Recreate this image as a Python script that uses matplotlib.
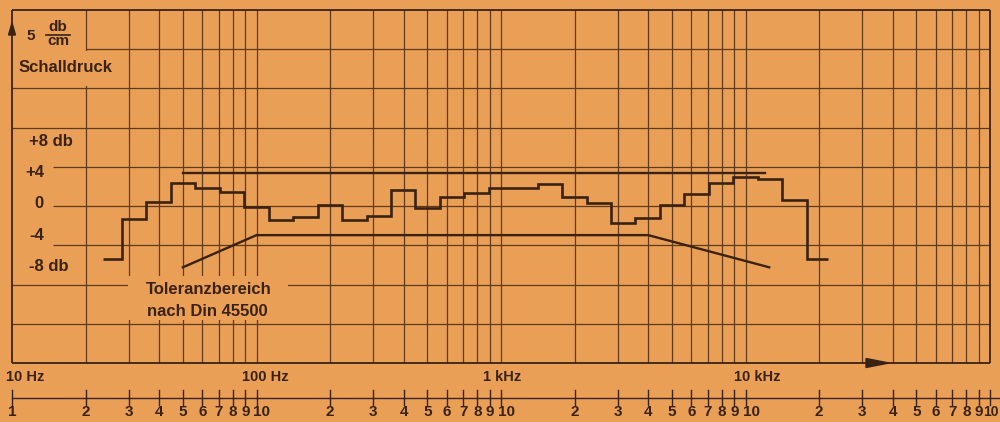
import numpy as np
import matplotlib
matplotlib.use('Agg')
import matplotlib.pyplot as plt
from matplotlib.patches import Polygon, Rectangle
from matplotlib.lines import Line2D
from matplotlib.transforms import Affine2D, blended_transform_factory

# third-octave band centres (Hz) and the measured level (dB) of each band
band_hz = [25, 31.5, 40, 50, 63, 80, 100, 125, 160, 200, 250, 315, 400, 500,
           630, 800, 1000, 1250, 1600, 2000, 2500, 3150, 4000, 5000, 6300,
           8000, 10000, 12500, 16000, 20000]
level_db = [-6.8, -1.7, 0.5, 2.9, 2.3, 1.8, -0.1, -1.8, -1.4, 0.1, -1.8, -1.2,
            2.0, -0.3, 1.1, 1.7, 2.3, 2.3, 2.8, 1.1, 0.4, -2.2, -1.5, 0.1,
            1.5, 2.9, 3.7, 3.4, 0.8, -6.8]
curve_start_hz = 23.5
curve_end_hz = 21700

# tolerance band after DIN 45500
tol_upper_hz = [50, 12000]
tol_upper_db = [4.2, 4.2]
tol_lower_hz = [50, 100, 4000, 12500]
tol_lower_db = [-7.8, -3.7, -3.7, -7.8]

y_labels = ['+8 db', '+4', '0', '-4', '-8 db']
y_label_db = [8, 4, 0, -4, -8]
decade_labels = ['10 Hz', '100 Hz', '1 kHz', '10 kHz']
scale_digits = ['2', '3', '4', '5', '6', '7', '8', '9']

bg = '#e99f56'
ink = '#3a2213'
grid_c = '#5f3a1c'

plt.rcParams['font.family'] = ['Liberation Sans', 'DejaVu Sans']
plt.rcParams['font.weight'] = 'bold'

fig = plt.figure(figsize=(10, 4.22), dpi=100, facecolor=bg)
ax = fig.add_axes([12 / 1000, 59 / 422, 978 / 1000, 353 / 422])
ax.set_xscale('log')
ax.set_xlim(10, 1e5)
ax.set_ylim(-20, 25)
ax.axis('off')

# pixel transform (y downwards) for the printed decorations
px = Affine2D().scale(1 / 1000, -1 / 422).translate(0, 1) + fig.transFigure
bt = blended_transform_factory(ax.transData, px)

# log grid
minor = [k * 10 ** n for n in range(1, 5) for k in range(2, 10)]
ax.vlines(minor + [100, 1000, 10000], -20, 25, color=grid_c, lw=0.9, clip_on=False)
ax.hlines([15, 10, -10, -15], 10, 1e5, color=grid_c, lw=0.9, clip_on=False)
ax.hlines([5, 0, -5], 14.7, 1e5, color=grid_c, lw=0.9, clip_on=False)
ax.hlines(20, 20, 1e5, color=grid_c, lw=0.9, clip_on=False)
ax.hlines([25, -20], 10, 1e5, color=ink, lw=1.3, clip_on=False)
ax.vlines([10, 1e5], -20, 25, color=ink, lw=1.3, clip_on=False)

# blank patches behind the labels
fig.add_artist(Rectangle((14, 51), 108, 35, transform=px, facecolor=bg,
                         edgecolor='none', zorder=2))
fig.add_artist(Rectangle((128, 276), 160, 44, transform=px, facecolor=bg,
                         edgecolor='none', zorder=2))

# measured curve
centres = 10 ** (np.round(np.log10(band_hz) * 10) / 10)
edges = np.append(centres * 10 ** -0.05, centres[-1] * 10 ** 0.05)
edges[0] = curve_start_hz
edges[-1] = curve_end_hz
ax.stairs(level_db, edges, baseline=None, color=ink, lw=1.9, zorder=5)

# tolerance lines
ax.plot(tol_upper_hz, tol_upper_db, color=ink, lw=1.7, zorder=4)
ax.plot(tol_lower_hz, tol_lower_db, color=ink, lw=1.7, zorder=4)

# arrows on the axes
fig.add_artist(Polygon([(12, 23), (8.5, 35), (15.5, 35)], closed=True,
                       transform=px, color=ink, zorder=4))
fig.add_artist(Polygon([(889, 363), (866, 358.5), (866, 367.5)], closed=True,
                       transform=px, color=ink, zorder=4))

# y labels
for lab, db in zip(y_labels, y_label_db):
    if 'db' in lab:
        ax.text(11.7, db + 0.3, lab, ha='left', va='center', fontsize=12,
                color=ink, zorder=6)
    else:
        ax.text(13.5, db + 0.3, lab, ha='right', va='center', fontsize=12,
                color=ink, zorder=6)

fig.text(31, 36, '5', transform=px, ha='center', va='center', fontsize=11, color=ink)
fig.text(58, 27, 'db', transform=px, ha='center', va='center', fontsize=11, color=ink)
fig.text(58, 41, 'cm', transform=px, ha='center', va='center', fontsize=11, color=ink)
fig.add_artist(Line2D([46, 70], [34.5, 34.5], transform=px, color=ink, lw=1.2))
fig.text(19, 68, 'Schalldruck', transform=px, ha='left', va='center',
         fontsize=12, color=ink, zorder=3)
fig.text(146, 289, 'Toleranzbereich', transform=px, ha='left', va='center',
         fontsize=12, color=ink, zorder=3)
fig.text(147, 311, 'nach Din 45500', transform=px, ha='left', va='center',
         fontsize=12, color=ink, zorder=3)

# decade labels under the chart
for lab, x in zip(decade_labels, [25, 265, 502, 757]):
    fig.text(x, 377, lab, transform=px, ha='center', va='center',
             fontsize=10.5, color=ink)

# second log scale at the bottom
ax.plot([10, 1.2e5], [398, 398], transform=bt, color=ink, lw=1.0, clip_on=False)
for n in range(1, 6):
    for k in range(1, 10):
        f = k * 10 ** n
        if f > 1e5:
            break
        ax.plot([f, f], [390, 405], transform=bt, color=ink, lw=1.0, clip_on=False)
        if k > 1:
            ax.text(f, 412, scale_digits[k - 2], transform=bt, ha='center',
                    va='center', fontsize=11, color=ink, clip_on=False)
        elif n == 1:
            ax.text(f, 412, '1', transform=bt, ha='center', va='center',
                    fontsize=11, color=ink, clip_on=False)
        elif n == 5:
            fig.text(999, 412, '10', transform=px, ha='right', va='center',
                     fontsize=10, color=ink)
        else:
            ax.text(f * 10 ** (-3 / 244.5), 412, '10', transform=bt, ha='left',
                    va='center', fontsize=11, color=ink, clip_on=False)

fig.savefig('out.png', dpi=100, facecolor=bg)
